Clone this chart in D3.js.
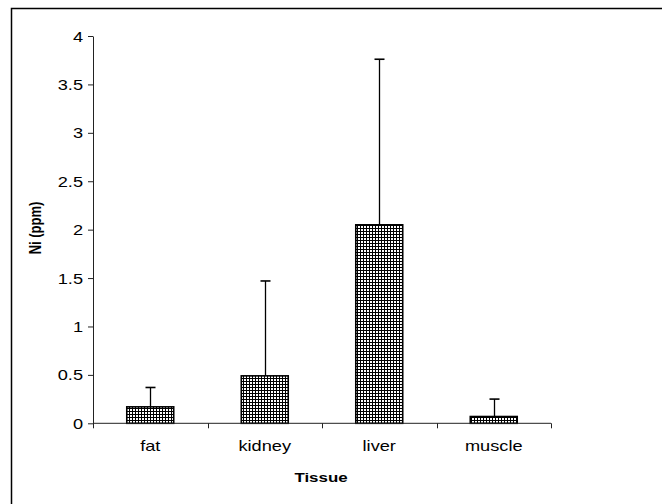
<!DOCTYPE html>
<html>
<head>
<meta charset="utf-8">
<script src="https://cdn.jsdelivr.net/npm/d3@7"></script>
<style>
  html, body { margin: 0; padding: 0; background: #fff; }
  svg { display: block; }
  text { font-family: "Liberation Sans", Arial, sans-serif; fill: #000; }
</style>
</head>
<body>
<svg id="chart" width="662" height="504"></svg>
<script>
// Nickel concentration by tissue: mean and upper error (mean + SD)
const tissues = ["fat", "kidney", "liver", "muscle"];
const means = [0.17, 0.49, 2.05, 0.07];
const upperErrors = [0.37, 1.47, 3.76, 0.25];
const yTicks = [0, 0.5, 1, 1.5, 2, 2.5, 3, 3.5, 4];

const svg = d3.select("#chart");
const stretch = 1.3; // text is drawn horizontally widened

// outer frame
svg.append("rect")
  .attr("x", 11.5).attr("y", 8.5)
  .attr("width", 700).attr("height", 520)
  .attr("fill", "none").attr("stroke", "#000").attr("stroke-width", 1.5);

// crosshatch fill for bars
const defs = svg.append("defs");
const pat = defs.append("pattern")
  .attr("id", "grid").attr("patternUnits", "userSpaceOnUse")
  .attr("width", 3).attr("height", 3);
pat.append("rect").attr("width", 3).attr("height", 3).attr("fill", "#fff");
pat.append("rect").attr("x", 0).attr("y", 0).attr("width", 1).attr("height", 3).attr("fill", "#000");
pat.append("rect").attr("x", 0).attr("y", 0).attr("width", 3).attr("height", 1).attr("fill", "#000");

const x = d3.scaleBand().domain(tissues).range([93, 551])
  .paddingInner(0.59).paddingOuter(0.295);
const y = d3.scaleLinear().domain([0, 4]).range([423.3, 36]);

// bars
svg.append("g").selectAll("rect")
  .data(tissues)
  .join("rect")
  .attr("x", d => x(d))
  .attr("y", (d, i) => y(means[i]))
  .attr("width", x.bandwidth())
  .attr("height", (d, i) => y(0) - y(means[i]))
  .attr("fill", "url(#grid)")
  .attr("stroke", "#000").attr("stroke-width", 1.6);

// error bars
const err = svg.append("g").attr("stroke", "#000");
tissues.forEach((t, i) => {
  const cx = Math.round(x(t) + x.bandwidth() / 2) + 0.5;
  err.append("line").attr("x1", cx).attr("x2", cx)
    .attr("y1", y(means[i])).attr("y2", y(upperErrors[i])).attr("stroke-width", 1.3);
  err.append("line").attr("x1", cx - 5).attr("x2", cx + 5)
    .attr("y1", y(upperErrors[i])).attr("y2", y(upperErrors[i])).attr("stroke-width", 1.6);
});

// y axis
const yAxis = svg.append("g").attr("transform", "translate(93,0)")
  .call(d3.axisLeft(y).tickValues(yTicks).tickSize(5).tickSizeOuter(0)
    .tickFormat(d => String(d)));
yAxis.select(".domain").attr("stroke", "#222");
yAxis.selectAll(".tick line").attr("stroke", "#222");
yAxis.selectAll(".tick text")
  .attr("font-size", 14).attr("font-family", "Liberation Sans, Arial, sans-serif")
  .attr("x", -10 / stretch).attr("dy", "0.36em")
  .attr("transform", `scale(${stretch},1)`);

// x axis with tick marks on category boundaries
const xAxisG = svg.append("g").attr("transform", `translate(0,${y(0)})`);
xAxisG.append("line").attr("x1", 93).attr("x2", 551).attr("y1", 0).attr("y2", 0)
  .attr("stroke", "#222");
const step = x.step();
const bounds = d3.range(tissues.length + 1).map(i => 93 + i * step);
xAxisG.selectAll("line.b").data(bounds).join("line").attr("class", "b")
  .attr("x1", d => Math.round(d) + 0.5).attr("x2", d => Math.round(d) + 0.5)
  .attr("y1", 0).attr("y2", 5).attr("stroke", "#222");
xAxisG.selectAll("text").data(tissues).join("text")
  .attr("transform", d => `translate(${x(d) + x.bandwidth() / 2},28) scale(${stretch},1)`)
  .attr("text-anchor", "middle").attr("font-size", 14)
  .text(d => d);

// axis titles
svg.append("text")
  .attr("transform", `translate(321,482) scale(${stretch},1)`)
  .attr("text-anchor", "middle").attr("font-size", 13).attr("font-weight", "bold")
  .text("Tissue");
svg.append("text")
  .attr("transform", `translate(40.5,228) scale(${stretch},1) rotate(-90)`)
  .attr("text-anchor", "middle").attr("font-size", 13).attr("font-weight", "bold")
  .text("Ni (ppm)");
</script>
</body>
</html>
